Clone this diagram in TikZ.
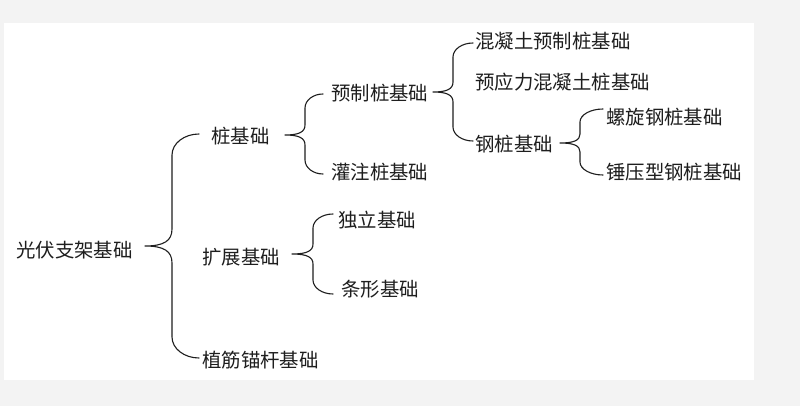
\documentclass[tikz,border=0pt]{standalone}
\usepackage{fontspec}
\usetikzlibrary{calc}
\newfontfamily\cjk{Noto Sans CJK SC}
\definecolor{bggray}{HTML}{F3F3F3}
\definecolor{ink}{HTML}{1E1E1E}
\newcommand{\mybrace}[8]{% xa ya xv xt yt yb rc rt
  \draw[bracestyle] (#1,#2) .. controls ({#1-0.55*(#1-#3)},#2) and (#3,{#2+0.45*#7}) .. (#3,#2+#7)
    -- (#3,#5-#8) .. controls (#3,{#5-0.3*#8}) and ({#3-0.3*(#3-#4)},#5) .. (#4,#5)
    .. controls ({#3-0.3*(#3-#4)},#5) and (#3,{#5+0.3*#8}) .. (#3,#5+#8)
    -- (#3,#6-#7) .. controls (#3,{#6-0.45*#7}) and ({#1-0.55*(#1-#3)},#6) .. (#1,#6);}
\begin{document}
\begin{tikzpicture}[x=1pt,y=-1pt,
  lbl/.style={anchor=base west,inner sep=0pt,font=\cjk\fontsize{19.4}{22}\selectfont,text=ink},
  bracestyle/.style={draw=ink,line width=1.1pt,line cap=round,line join=round}]
\useasboundingbox (0,0) rectangle (800,406);
\fill[bggray] (0,0) rectangle (800,406);
\fill[white] (4,23) rectangle (754,380);
% labels (baseline = visual centre + 7)
\node[lbl] (root) at (16,257) {光伏支架基础};
\node[lbl] (zhuang) at (211,144) {桩基础};
\node[lbl] (kuo) at (202,264) {扩展基础};
\node[lbl] (zhi) at (202,367) {植筋锚杆基础};
\node[lbl] (yuzhi) at (331,101) {预制桩基础};
\node[lbl] (guan) at (331,179) {灌注桩基础};
\node[lbl] (duli) at (338,227) {独立基础};
\node[lbl] (tiao) at (341,296) {条形基础};
\node[lbl] (hnt) at (475,49) {混凝土预制桩基础};
\node[lbl] (yyl) at (475,90) {预应力混凝土桩基础};
\node[lbl] (gang) at (475,152) {钢桩基础};
\node[lbl] (luo) at (606,125) {螺旋钢桩基础};
\node[lbl] (chui) at (606,179) {锤压型钢桩基础};
% braces
\mybrace{199}{134}{172}{145}{246}{358}{21}{17}
\mybrace{323}{94}{305}{285}{135}{174}{14}{10}
\mybrace{473}{43}{453}{433}{92}{141}{14}{10}
\mybrace{603}{109}{580}{560}{143}{175}{13}{9}
\mybrace{333}{214}{313}{292}{254}{294}{14}{10}
\end{tikzpicture}
\end{document}
